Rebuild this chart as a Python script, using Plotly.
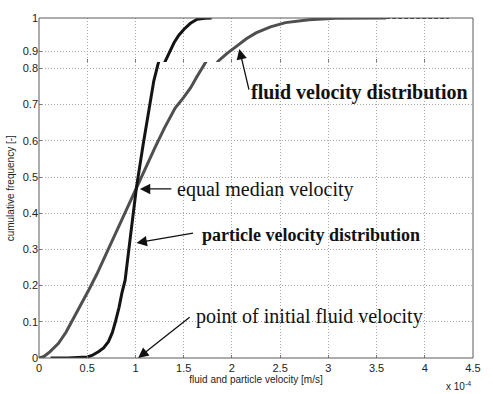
import plotly.graph_objects as go

# ---- data (velocity in units of 1e-4 m/s, cumulative frequency) ----
particle_x = [0.12, 0.3, 0.5, 0.55, 0.62, 0.67, 0.72, 0.76, 0.79, 0.83, 0.86, 0.893, 0.95, 1.011,
              1.08, 1.147, 1.19, 1.232, 1.27, 1.317, 1.36, 1.40, 1.45, 1.504, 1.57, 1.64, 1.72, 1.79]
particle_y = [0.0, 0.0, 0.003, 0.007, 0.018, 0.028, 0.045, 0.07, 0.098, 0.14, 0.18, 0.215, 0.34, 0.472,
              0.59, 0.70, 0.765, 0.81, 0.845, 0.875, 0.90, 0.925, 0.948, 0.966, 0.984, 0.996, 0.999, 1.0]

fluid_x = [0.0, 0.05, 0.112, 0.2, 0.28, 0.36, 0.45, 0.52, 0.6, 0.7, 0.8, 0.9, 1.01, 1.1, 1.2, 1.3,
           1.41, 1.5, 1.571, 1.64, 1.708, 1.78, 1.86, 1.95, 2.05, 2.15, 2.25, 2.4, 2.556, 2.8, 3.07,
           3.4, 3.6]
fluid_y = [0.0, 0.004, 0.017, 0.04, 0.071, 0.11, 0.155, 0.19, 0.232, 0.29, 0.35, 0.41, 0.472, 0.525,
           0.58, 0.635, 0.69, 0.72, 0.746, 0.778, 0.81, 0.84, 0.870, 0.893, 0.915, 0.937, 0.955,
           0.973, 0.986, 0.995, 0.999, 1.0, 1.0]

fluid_tail_x = [3.6, 4.25]
fluid_tail_y = [1.0, 1.0]

x_ticks = [0, 0.5, 1, 1.5, 2, 2.5, 3, 3.5, 4, 4.5]
x_ticklabels = ["0", "0.5", "1", "1.5", "2", "2.5", "3", "3.5", "4", "4.5"]
y_low_ticks = [0, 0.1, 0.2, 0.3, 0.4, 0.5, 0.6, 0.7, 0.8]
y_low_labels = ["0", "0.1", "0.2", "0.3", "0.4", "0.5", "0.6", "0.7", "0.8"]
y_high_ticks = [0.9, 1.0]
y_high_labels = ["0.9", "1"]

PART_COLOR = "#141414"
FLUID_COLOR = "#4f4f4f"
GRID = "#a8a8a8"
SERIF = "Liberation Serif, Times New Roman, serif"
SANS = "Liberation Sans, Arial, sans-serif"

fig = go.Figure()
for xa, ya in (("x", "y"), ("x2", "y2")):
    fig.add_trace(go.Scatter(x=fluid_x, y=fluid_y, mode="lines", xaxis=xa, yaxis=ya,
                             line=dict(color=FLUID_COLOR, width=3), showlegend=False))
    fig.add_trace(go.Scatter(x=particle_x, y=particle_y, mode="lines", xaxis=xa, yaxis=ya,
                             line=dict(color=PART_COLOR, width=3), showlegend=False))
fig.add_trace(go.Scatter(x=fluid_tail_x, y=fluid_tail_y, mode="lines", xaxis="x2", yaxis="y2",
                         line=dict(color="#333333", width=2, dash="4px,2px"), showlegend=False))

axis_common = dict(showgrid=True, gridcolor=GRID, griddash="1px,2px", gridwidth=1,
                   zeroline=False, showline=False, ticks="inside", ticklen=3,
                   tickcolor="#777777", tickfont=dict(family=SANS, size=11, color="#222222"))

fig.update_layout(
    width=493, height=394,
    margin=dict(l=39, r=12, t=12, b=34),
    paper_bgcolor="white", plot_bgcolor="white",
    xaxis=dict(domain=[0, 1], anchor="y", range=[0, 4.5], tickvals=x_ticks,
               ticktext=x_ticklabels, ticklabelstandoff=2, **axis_common,
               title=dict(text="fluid and particle velocity [m/s]", standoff=1,
                          font=dict(family=SANS, size=10, color="#222222"))),
    xaxis2=dict(domain=[0, 1], anchor="y2", matches="x", range=[0, 4.5], tickvals=x_ticks,
                showticklabels=False, **axis_common),
    yaxis=dict(domain=[0, 0.8705], anchor="x", range=[0, 0.8176], tickvals=y_low_ticks,
               ticktext=y_low_labels, **axis_common),
    yaxis2=dict(domain=[0.8705, 1], anchor="x2", range=[0.8667, 1.0], tickvals=y_high_ticks,
                ticktext=y_high_labels, **axis_common),
)

# frame around the full plotting area
fig.add_shape(type="rect", xref="paper", yref="paper", x0=0, x1=1, y0=0, y1=1,
              line=dict(color="#5a5a5a", width=1), layer="above")

# y-axis title centred on the whole (broken) axis
fig.add_annotation(xref="paper", yref="paper", x=-0.066, y=0.5, xanchor="center", yanchor="middle",
                   text="cumulative frequency [-]", textangle=-90, showarrow=False,
                   font=dict(family=SANS, size=10, color="#222222"))

# x 10^-4 exponent label
fig.add_annotation(xref="paper", yref="paper", x=1.0, y=-0.083, xanchor="right", yanchor="middle",
                   text="x 10<sup>-4</sup>", showarrow=False,
                   font=dict(family=SANS, size=10, color="#222222"))

# annotations: text anchored at its left edge, arrows with pixel offsets to the tail
texts = [
    dict(text="<b>fluid velocity distribution</b>", x=2.18, y=0.733, size=20),
    dict(text="equal median velocity", x=1.413, y=0.466, size=20),
    dict(text="<b>particle velocity distribution</b>", x=1.673, y=0.340, size=18),
    dict(text="point of initial fluid velocity", x=1.605, y=0.115, size=20),
]
for t in texts:
    fig.add_annotation(x=t["x"], y=t["y"], xref="x", yref="y", text=t["text"],
                       showarrow=False, xanchor="left", yanchor="middle",
                       font=dict(family=SERIF, size=t["size"], color="#111111"))

arrows = [
    dict(x=2.077, y=0.906, yref="y2", ax=10, ay=42),
    dict(x=1.046, y=0.467, yref="y", ax=33, ay=0),
    dict(x=1.011, y=0.318, yref="y", ax=58, ay=-10),
    dict(x=1.028, y=0.0, yref="y", ax=53, ay=-42),
]
for a in arrows:
    fig.add_annotation(x=a["x"], y=a["y"], xref="x", yref=a["yref"], ax=a["ax"], ay=a["ay"],
                       axref="pixel", ayref="pixel", text="", showarrow=True,
                       arrowhead=2, arrowsize=1.6, arrowwidth=1.3, arrowcolor="#111111")

fig.write_html("out.html")
